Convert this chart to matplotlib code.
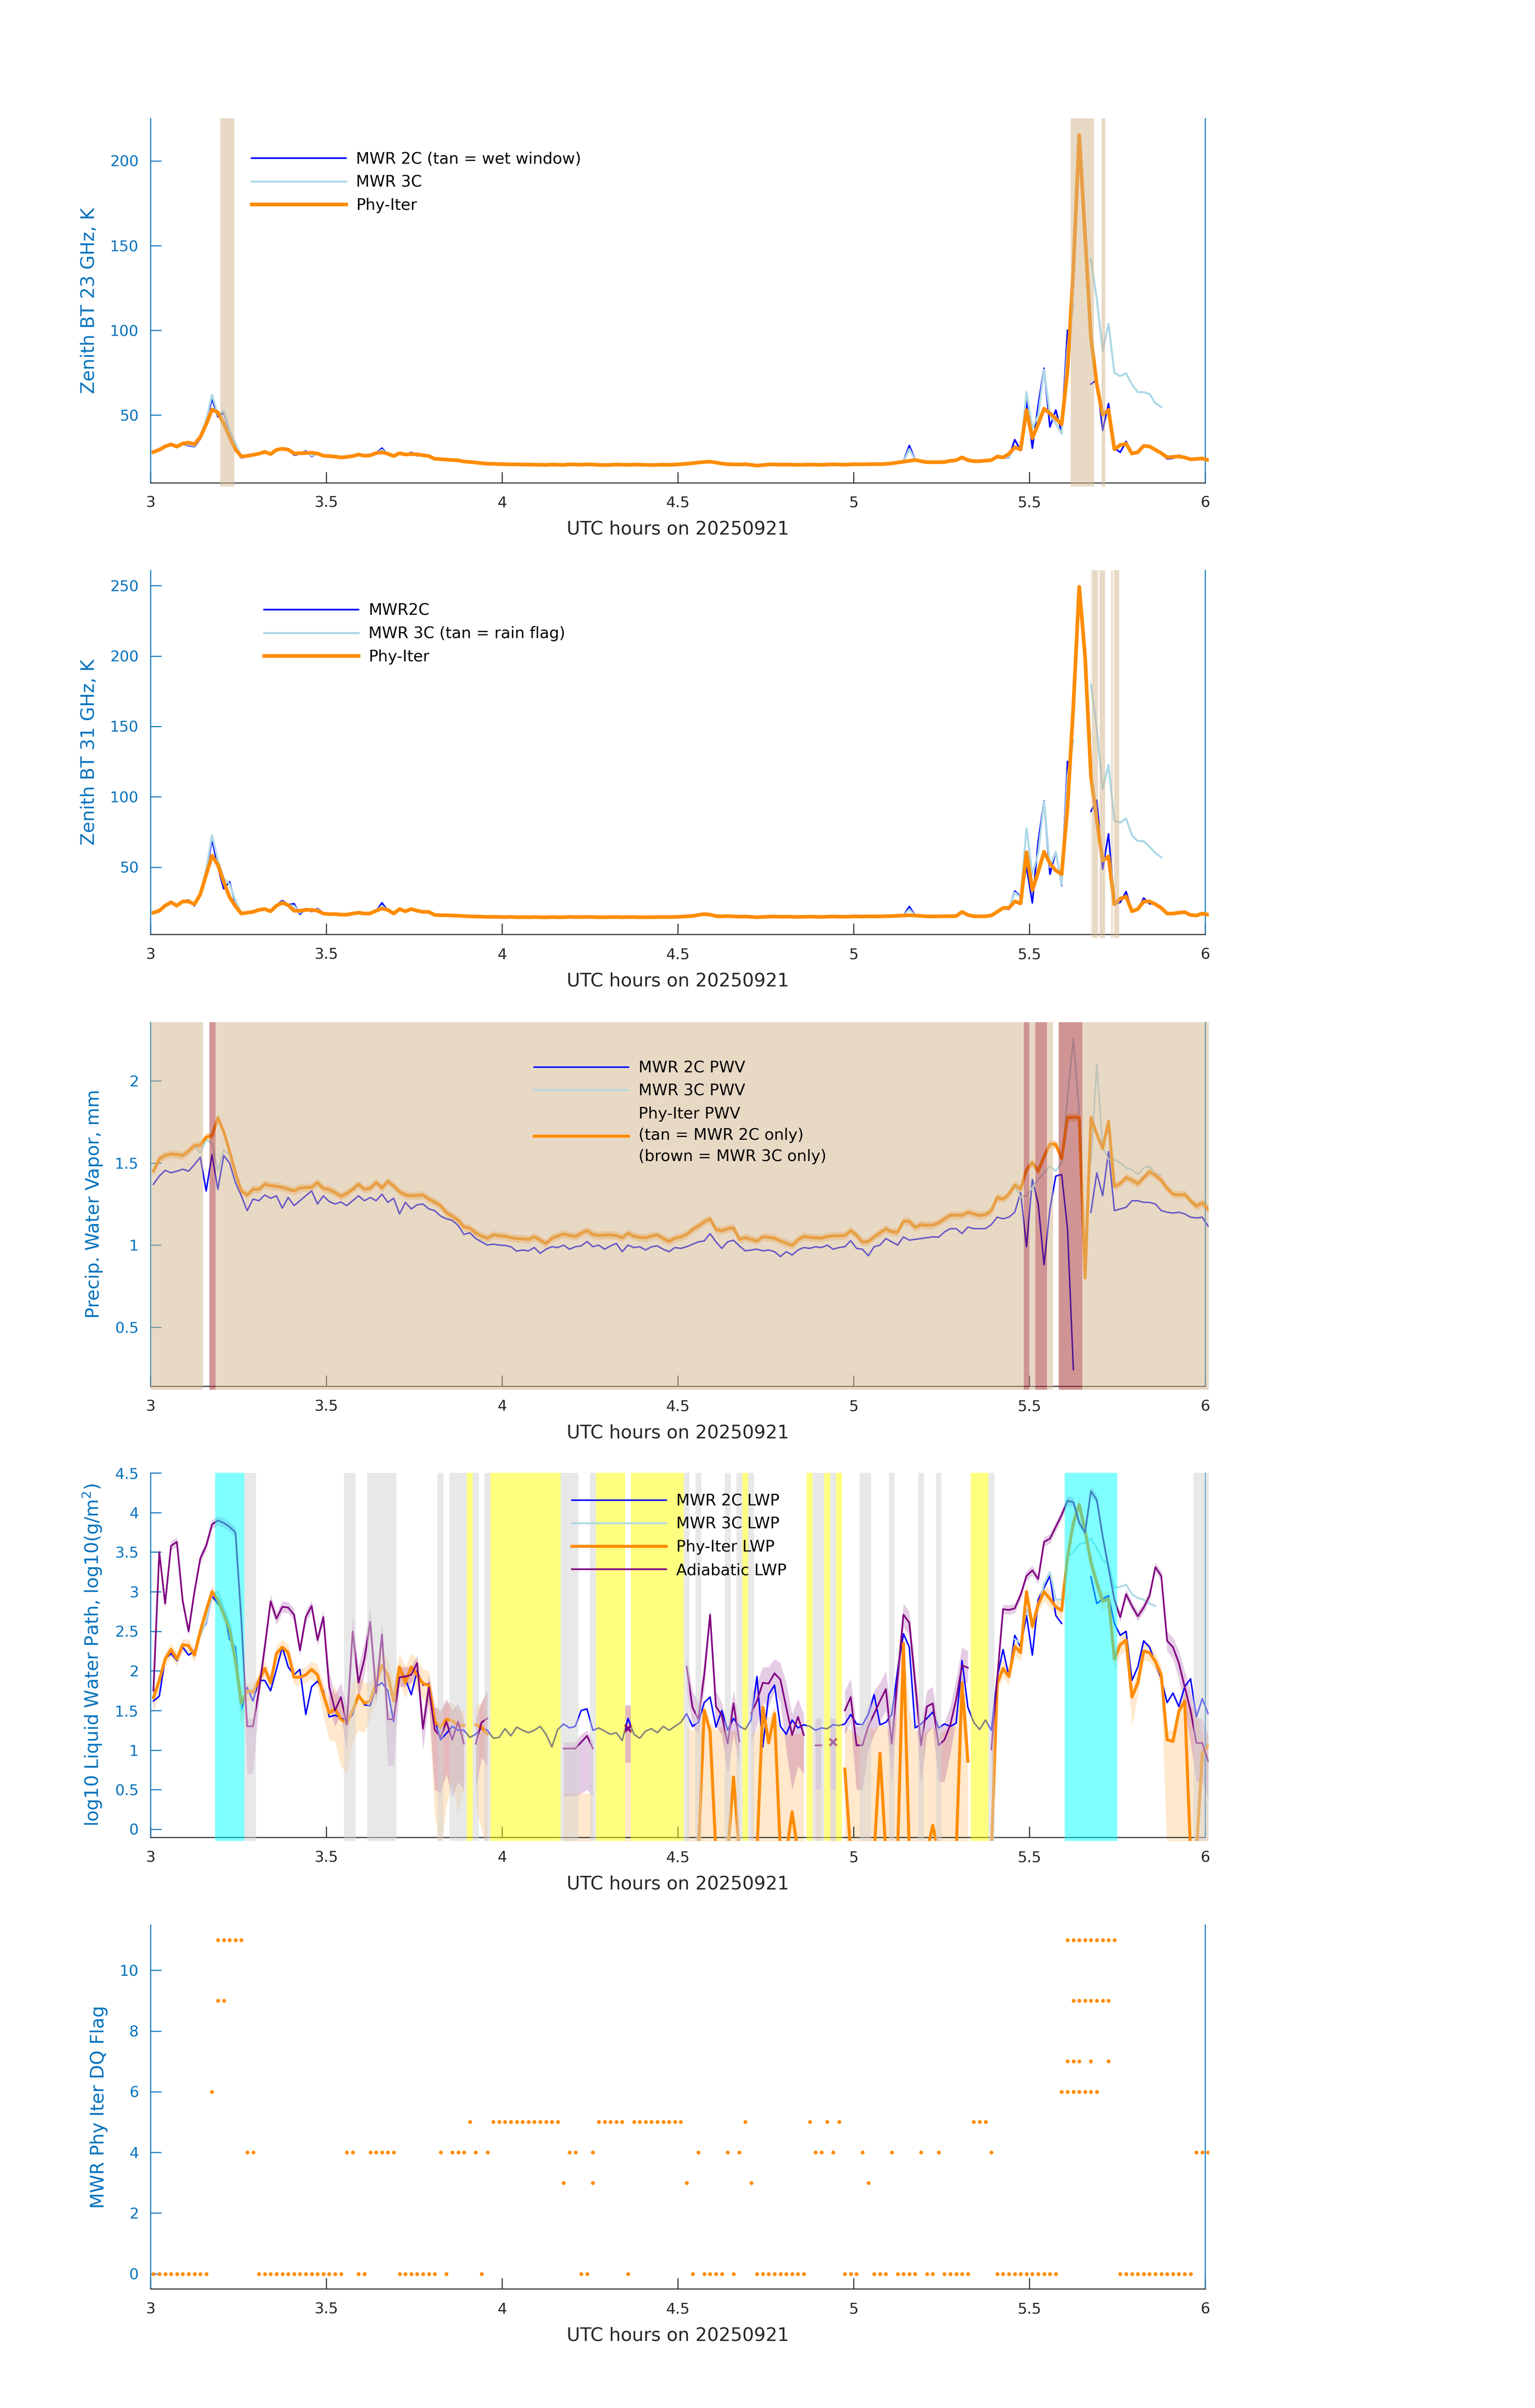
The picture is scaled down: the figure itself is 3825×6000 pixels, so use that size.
import numpy as np
import matplotlib
matplotlib.use("Agg")
import matplotlib.pyplot as plt
from matplotlib.patches import Rectangle
from matplotlib.ticker import FuncFormatter

nan = float("nan")

# ---------------- time axis (1-minute samples, UTC hours) ----------------
T_START = 3.0
N_MIN = 181
TIME = T_START + (np.arange(N_MIN) + 0.5) / 60.0

# ---------------- panel 1 : zenith BT 23 GHz ----------------
BT23_2C = [
    28.0, 29.0, 31.0, 32.5, 31.0, 33.0, 32.0, 31.4, 36.0, 46.0,
    59.6, 49.0, 51.5, 40.0, 32.5, 24.8, 25.5, 26.3, 27.0, 28.0,
    26.8, 29.8, 30.5, 30.0, 26.4, 27.0, 28.9, 25.5, 27.5, 26.0,
    25.5, 25.3, 24.8, 25.2, 25.6, 26.5, 25.8, 26.0, 27.5, 30.5,
    26.5, 25.5, 28.0, 26.2, 28.0, 26.0, 26.8, 25.5, 24.0, 23.8,
    23.5, 23.4, 23.1, 22.5, 22.2, 21.8, 21.5, 21.2, 21.1, 21.0,
    20.8, 20.8, 20.7, 20.6, 20.7, 20.5, 20.6, 20.4, 20.7, 20.5,
    20.5, 20.8, 20.6, 20.6, 20.8, 20.7, 20.4, 20.4, 20.5, 20.6,
    20.6, 20.4, 20.7, 20.5, 20.5, 20.3, 20.5, 20.6, 20.4, 20.7,
    20.9, 21.2, 21.5, 21.8, 22.2, 22.6, 21.9, 21.2, 20.8, 20.7,
    20.6, 20.8, 20.4, 19.9, 20.3, 20.6, 20.8, 20.5, 20.6, 20.5,
    20.4, 20.6, 20.6, 20.5, 20.5, 20.6, 20.8, 20.6, 20.5, 20.7,
    20.8, 20.8, 20.9, 21.0, 20.9, 21.1, 21.4, 21.8, 22.6, 32.0,
    23.6, 22.8, 22.0, 22.0, 22.1, 22.2, 22.6, 23.2, 25.5, 23.0,
    22.5, 22.6, 23.0, 23.2, 26.0, 24.7, 25.0, 35.5, 29.0, 58.0,
    30.5, 56.0, 77.6, 43.0, 53.0, 39.7, 100.0, nan, nan, nan,
    68.3, 70.8, 41.0, 56.8, 30.5, 28.0, 34.4, 27.2, 27.5, 32.2,
    31.0, 30.0, 27.0, 24.2, 24.5, 26.3, 25.0, 23.5, 24.2, 24.0,
    23.5]
BT23_3C = [
    28.2, 29.2, 31.2, 32.6, 31.2, 33.1, 32.5, 31.8, 38.0, 47.0,
    62.0, 50.0, 52.5, 41.0, 33.5, 25.5, 25.8, 26.4, 27.1, 28.2,
    26.9, 29.6, 30.3, 29.8, 26.8, 27.2, 28.5, 25.9, 27.4, 26.0,
    25.6, 25.4, 24.9, 25.2, 25.7, 26.6, 25.9, 26.1, 27.5, 29.5,
    26.8, 25.6, 27.6, 26.4, 27.6, 26.3, 26.6, 25.6, 24.1, 23.9,
    23.6, 23.4, 23.2, 22.6, 22.2, 21.9, 21.6, 21.3, 21.2, 21.0,
    20.9, 20.8, 20.8, 20.7, 20.7, 20.6, 20.6, 20.5, 20.7, 20.6,
    20.5, 20.8, 20.7, 20.6, 20.8, 20.7, 20.5, 20.4, 20.5, 20.7,
    20.6, 20.5, 20.7, 20.6, 20.5, 20.4, 20.5, 20.6, 20.5, 20.7,
    20.9, 21.2, 21.5, 21.9, 22.2, 22.5, 21.9, 21.3, 20.9, 20.8,
    20.7, 20.9, 20.5, 20.0, 20.4, 20.7, 20.8, 20.6, 20.7, 20.6,
    20.5, 20.6, 20.7, 20.6, 20.5, 20.7, 20.8, 20.7, 20.6, 20.8,
    20.9, 20.8, 20.9, 21.0, 21.0, 21.1, 21.4, 21.9, 22.5, 30.0,
    23.5, 22.8, 22.1, 22.1, 22.1, 22.2, 22.7, 23.2, 25.2, 23.1,
    22.6, 22.7, 23.0, 23.3, 25.8, 24.8, 25.3, 31.0, 29.5, 63.6,
    42.0, 50.0, 76.8, 50.0, 45.0, 39.0, 90.0, 115.0, nan, nan,
    142.0, 118.3, 88.0, 103.9, 75.0, 73.0, 74.7, 68.0, 63.5, 63.5,
    62.5, 57.0, 54.8, nan, nan, nan, nan, nan, nan, nan,
    nan]
BT23_PHY = [
    28.2, 29.5, 31.5, 32.7, 31.4, 33.2, 33.7, 32.8, 37.0, 44.5,
    53.3, 51.5, 45.0, 37.0, 29.7, 25.6, 25.9, 26.5, 27.2, 28.3,
    27.0, 29.5, 30.1, 29.6, 27.4, 27.5, 27.6, 27.8, 27.3, 26.0,
    25.8, 25.5, 25.0, 25.3, 25.8, 26.7, 26.0, 26.2, 27.6, 28.0,
    27.2, 25.8, 27.5, 26.7, 27.0, 26.8, 26.3, 25.8, 24.2, 24.0,
    23.7, 23.5, 23.3, 22.6, 22.3, 22.0, 21.6, 21.3, 21.2, 21.1,
    21.0, 20.9, 20.9, 20.8, 20.8, 20.7, 20.7, 20.6, 20.8, 20.7,
    20.6, 20.9, 20.8, 20.7, 20.9, 20.8, 20.6, 20.5, 20.6, 20.8,
    20.7, 20.6, 20.8, 20.7, 20.6, 20.5, 20.6, 20.7, 20.6, 20.8,
    21.0, 21.3, 21.6, 22.0, 22.3, 22.5, 22.0, 21.4, 21.0, 20.9,
    20.8, 21.0, 20.6, 20.2, 20.5, 20.8, 20.9, 20.7, 20.8, 20.7,
    20.6, 20.7, 20.8, 20.7, 20.6, 20.8, 20.9, 20.8, 20.7, 20.9,
    21.0, 20.9, 21.0, 21.1, 21.0, 21.2, 21.5, 22.0, 22.5, 23.0,
    23.5, 22.8, 22.2, 22.2, 22.2, 22.3, 23.0, 23.4, 25.0, 23.4,
    22.8, 22.8, 23.1, 23.4, 25.5, 25.0, 27.1, 31.0, 29.7, 52.9,
    36.4, 44.7, 53.8, 51.0, 47.9, 44.6, 76.2, 136.0, 215.3, 156.0,
    95.5, 68.0, 50.1, 53.1, 29.8, 32.3, 33.1, 27.3, 28.1, 31.8,
    31.5, 29.5, 27.5, 25.1, 25.3, 25.6, 25.0, 23.9, 24.1, 24.4,
    23.4]
WET_WINDOW_2C = [(3.199, 3.238), (5.617, 5.684), (5.705, 5.716)]

# ---------------- panel 2 : zenith BT 31 GHz ----------------
BT31_2C = [
    17.2, 18.8, 22.0, 25.5, 22.3, 26.0, 26.5, 22.5, 31.0, 46.0,
    69.6, 50.0, 34.6, 39.6, 24.0, 17.5, 17.8, 18.6, 19.8, 20.5,
    19.0, 23.0, 26.2, 23.2, 24.0, 16.5, 20.5, 18.5, 20.5, 17.5,
    16.5, 16.4, 16.0, 16.3, 16.8, 17.3, 17.2, 17.0, 18.6, 24.6,
    19.0, 17.5, 20.8, 18.0, 20.8, 18.5, 18.0, 17.6, 15.8, 15.6,
    15.6, 15.4, 15.3, 15.0, 14.8, 14.7, 14.5, 14.4, 14.5, 14.3,
    14.2, 14.4, 14.1, 14.3, 14.2, 14.3, 14.1, 14.0, 14.3, 14.2,
    14.2, 14.4, 14.3, 14.2, 14.5, 14.3, 14.1, 14.2, 14.3, 14.2,
    14.1, 14.3, 14.2, 14.1, 14.1, 14.2, 14.3, 14.2, 14.2, 14.4,
    14.6, 14.8, 15.0, 15.8, 16.8, 16.0, 15.0, 14.8, 15.0, 14.8,
    14.6, 14.7, 14.3, 13.9, 14.3, 14.6, 14.7, 14.5, 14.6, 14.5,
    14.4, 14.5, 14.6, 14.5, 14.4, 14.6, 14.7, 14.6, 14.5, 14.7,
    14.8, 14.7, 14.8, 14.8, 14.8, 14.9, 15.0, 15.2, 15.5, 22.0,
    15.5, 15.1, 14.8, 14.8, 14.8, 14.9, 14.9, 15.0, 18.8, 15.6,
    14.9, 14.8, 14.9, 15.4, 18.5, 20.5, 20.0, 33.0, 29.0, 50.0,
    24.6, 68.0, 97.0, 45.0, 61.0, 37.0, 125.0, nan, nan, nan,
    89.6, 97.6, 48.6, 73.6, 23.6, 25.0, 32.6, 18.6, 19.5, 28.0,
    24.0, 24.0, 21.0, 16.8, 16.8, 17.5, 18.5, 15.8, 15.4, 17.2,
    16.0]
BT31_3C = [
    17.4, 18.9, 22.3, 25.3, 22.5, 25.8, 26.0, 23.0, 31.5, 48.0,
    72.6, 55.0, 42.0, 38.0, 26.0, 17.6, 17.7, 18.4, 19.7, 20.3,
    18.9, 22.8, 25.5, 23.1, 22.5, 17.5, 20.2, 19.0, 20.0, 17.4,
    16.6, 16.5, 16.1, 16.3, 16.9, 17.4, 17.1, 17.0, 18.8, 22.5,
    19.2, 17.4, 20.5, 18.3, 20.4, 18.7, 18.1, 17.8, 15.9, 15.7,
    15.6, 15.5, 15.4, 15.1, 14.9, 14.8, 14.6, 14.5, 14.5, 14.4,
    14.3, 14.4, 14.2, 14.3, 14.3, 14.3, 14.2, 14.1, 14.3, 14.3,
    14.3, 14.4, 14.4, 14.3, 14.5, 14.4, 14.2, 14.2, 14.3, 14.3,
    14.2, 14.3, 14.3, 14.2, 14.2, 14.2, 14.3, 14.3, 14.3, 14.4,
    14.7, 14.9, 15.1, 15.8, 16.6, 16.1, 15.1, 14.9, 15.1, 14.9,
    14.7, 14.8, 14.4, 14.1, 14.4, 14.7, 14.8, 14.6, 14.7, 14.6,
    14.5, 14.6, 14.7, 14.6, 14.5, 14.7, 14.8, 14.7, 14.6, 14.8,
    14.9, 14.8, 14.9, 14.9, 14.9, 15.0, 15.1, 15.3, 15.6, 20.0,
    15.5, 15.2, 14.9, 14.9, 14.9, 15.0, 15.0, 15.1, 18.0, 15.7,
    15.0, 14.9, 15.0, 15.5, 18.0, 20.2, 20.3, 32.0, 28.5, 77.6,
    44.6, 60.0, 96.6, 50.0, 61.0, 37.6, 115.0, 140.0, nan, nan,
    179.7, 148.3, 105.6, 122.7, 83.0, 81.6, 84.6, 72.6, 68.5, 68.5,
    64.6, 60.0, 57.0, nan, nan, nan, nan, nan, nan, nan,
    nan]
BT31_PHY = [
    17.6, 19.0, 22.6, 25.0, 22.6, 25.6, 25.6, 23.6, 30.6, 44.6,
    58.2, 51.6, 39.6, 28.6, 22.2, 17.0, 17.6, 18.2, 19.6, 20.2,
    18.6, 22.6, 24.6, 23.0, 19.0, 19.0, 19.6, 19.6, 19.0, 17.0,
    16.6, 16.6, 16.2, 16.2, 17.0, 17.6, 17.0, 17.1, 19.0, 20.6,
    19.6, 17.0, 20.2, 18.6, 20.2, 19.0, 18.2, 18.2, 16.0, 15.8,
    15.8, 15.6, 15.5, 15.2, 15.0, 14.9, 14.8, 14.6, 14.7, 14.6,
    14.5, 14.6, 14.4, 14.5, 14.4, 14.5, 14.4, 14.3, 14.5, 14.4,
    14.4, 14.6, 14.5, 14.5, 14.6, 14.5, 14.4, 14.4, 14.5, 14.5,
    14.4, 14.5, 14.5, 14.4, 14.4, 14.4, 14.5, 14.5, 14.5, 14.6,
    14.8, 15.0, 15.3, 16.0, 16.6, 16.2, 15.2, 15.0, 15.2, 15.0,
    14.8, 14.9, 14.6, 14.4, 14.6, 14.8, 14.9, 14.7, 14.8, 14.7,
    14.6, 14.7, 14.8, 14.7, 14.6, 14.8, 14.9, 14.8, 14.7, 14.9,
    15.0, 14.9, 15.0, 15.0, 15.0, 15.1, 15.2, 15.4, 15.6, 15.8,
    15.6, 15.3, 15.0, 15.0, 15.0, 15.1, 15.1, 15.2, 18.2, 16.0,
    15.1, 15.0, 15.1, 15.6, 18.2, 21.0, 21.0, 25.6, 24.2, 60.6,
    33.6, 46.6, 61.0, 52.6, 47.6, 45.0, 92.6, 164.7, 249.2, 199.7,
    114.7, 83.0, 54.6, 57.6, 23.6, 27.6, 29.0, 18.6, 20.2, 25.6,
    25.6, 23.6, 21.0, 17.0, 17.0, 17.6, 18.0, 16.0, 15.6, 17.0,
    16.2]
RAIN_FLAG_3C = [(5.674, 5.676), (5.678, 5.695), (5.699, 5.715),
                (5.733, 5.737), (5.741, 5.755)]

# ---------------- panel 3 : precipitable water vapour ----------------
PWV_2C = [
    1.37, 1.42, 1.455, 1.44, 1.45, 1.462, 1.45, 1.49, 1.535, 1.33,
    1.55, 1.34, 1.545, 1.50, 1.38, 1.30, 1.21, 1.28, 1.27, 1.305,
    1.285, 1.30, 1.225, 1.29, 1.24, 1.27, 1.30, 1.33, 1.25, 1.30,
    1.265, 1.25, 1.262, 1.24, 1.27, 1.30, 1.27, 1.29, 1.27, 1.31,
    1.26, 1.285, 1.19, 1.26, 1.22, 1.245, 1.25, 1.22, 1.21, 1.177,
    1.16, 1.15, 1.12, 1.065, 1.075, 1.04, 1.02, 1.00, 1.006, 1.00,
    0.998, 0.99, 0.963, 0.97, 0.965, 0.985, 0.95, 0.975, 0.99, 0.985,
    1.00, 0.975, 0.99, 0.995, 1.022, 0.99, 1.00, 0.975, 0.995, 1.01,
    0.96, 1.00, 0.985, 0.99, 0.97, 0.99, 0.995, 0.975, 0.96, 0.985,
    0.98, 0.99, 1.005, 1.02, 1.025, 1.07, 1.02, 0.98, 1.02, 1.03,
    0.995, 0.965, 0.97, 0.975, 0.965, 0.97, 0.96, 0.93, 0.96, 0.94,
    0.97, 0.985, 0.98, 0.99, 0.985, 1.00, 0.975, 0.985, 0.99, 1.027,
    0.98, 0.975, 0.935, 0.99, 1.00, 1.04, 1.02, 1.00, 1.05, 1.03,
    1.035, 1.04, 1.045, 1.05, 1.048, 1.08, 1.10, 1.10, 1.07, 1.11,
    1.10, 1.10, 1.10, 1.125, 1.17, 1.16, 1.17, 1.20, 1.32, 0.99,
    1.40, 1.25, 0.88, 1.22, 1.42, 1.43, 1.10, 0.242, nan, nan,
    1.20, 1.44, 1.30, 1.57, 1.21, 1.22, 1.23, 1.27, 1.27, 1.26,
    1.26, 1.25, 1.21, 1.20, 1.195, 1.20, 1.19, 1.17, 1.165, 1.17,
    1.115]
PWV_3C = [
    1.448, 1.522, 1.543, 1.552, 1.550, 1.543, 1.570, 1.602, 1.56, 1.64,
    1.62, 1.45, 1.58, 1.55, 1.44, 1.33, 1.305, 1.34, 1.34, 1.37,
    1.362, 1.358, 1.352, 1.340, 1.330, 1.348, 1.350, 1.352, 1.380, 1.345,
    1.338, 1.320, 1.297, 1.315, 1.340, 1.370, 1.340, 1.345, 1.382, 1.348,
    1.388, 1.360, 1.325, 1.305, 1.300, 1.302, 1.305, 1.280, 1.262, 1.240,
    1.198, 1.175, 1.152, 1.110, 1.103, 1.075, 1.055, 1.042, 1.062, 1.057,
    1.054, 1.045, 1.040, 1.038, 1.034, 1.050, 1.030, 1.010, 1.042, 1.055,
    1.068, 1.060, 1.052, 1.072, 1.088, 1.065, 1.058, 1.062, 1.062, 1.058,
    1.045, 1.072, 1.055, 1.047, 1.045, 1.055, 1.062, 1.040, 1.022, 1.042,
    1.050, 1.065, 1.095, 1.117, 1.140, 1.160, 1.095, 1.088, 1.100, 1.105,
    1.035, 1.045, 1.035, 1.025, 1.050, 1.047, 1.042, 1.025, 1.012, 0.998,
    1.032, 1.053, 1.047, 1.044, 1.042, 1.052, 1.056, 1.057, 1.058, 1.088,
    1.060, 1.018, 1.022, 1.050, 1.075, 1.098, 1.080, 1.079, 1.145, 1.144,
    1.108, 1.124, 1.120, 1.122, 1.135, 1.160, 1.182, 1.182, 1.182, 1.200,
    1.190, 1.180, 1.185, 1.210, 1.290, 1.280, 1.310, 1.365, 1.29, 1.30,
    1.35, 1.40, 1.44, 1.48, 1.45, 1.50, 1.90, 2.257, 1.80, nan,
    1.50, 2.10, 1.60, 1.52, 1.52, 1.50, 1.47, 1.46, 1.43, 1.47,
    1.48, 1.43, 1.43, nan, nan, nan, nan, nan, nan, nan,
    nan]
PWV_PHY = [
    1.450, 1.525, 1.545, 1.554, 1.552, 1.545, 1.572, 1.605, 1.607, 1.657,
    1.665, 1.775, 1.690, 1.570, 1.440, 1.330, 1.305, 1.340, 1.340, 1.370,
    1.362, 1.358, 1.352, 1.340, 1.330, 1.348, 1.350, 1.352, 1.380, 1.345,
    1.338, 1.320, 1.297, 1.315, 1.340, 1.370, 1.340, 1.345, 1.382, 1.348,
    1.388, 1.360, 1.325, 1.305, 1.300, 1.302, 1.305, 1.280, 1.262, 1.240,
    1.198, 1.175, 1.152, 1.110, 1.103, 1.075, 1.055, 1.042, 1.062, 1.057,
    1.054, 1.045, 1.040, 1.038, 1.034, 1.050, 1.030, 1.010, 1.042, 1.055,
    1.068, 1.060, 1.052, 1.072, 1.088, 1.065, 1.058, 1.062, 1.062, 1.058,
    1.045, 1.072, 1.055, 1.047, 1.045, 1.055, 1.062, 1.040, 1.022, 1.042,
    1.050, 1.065, 1.095, 1.117, 1.140, 1.160, 1.095, 1.088, 1.100, 1.105,
    1.035, 1.045, 1.035, 1.025, 1.050, 1.047, 1.042, 1.025, 1.012, 0.998,
    1.032, 1.053, 1.047, 1.044, 1.042, 1.052, 1.056, 1.057, 1.058, 1.088,
    1.060, 1.018, 1.022, 1.050, 1.075, 1.098, 1.080, 1.079, 1.145, 1.144,
    1.108, 1.124, 1.120, 1.122, 1.135, 1.160, 1.182, 1.182, 1.182, 1.200,
    1.190, 1.180, 1.185, 1.210, 1.290, 1.280, 1.310, 1.365, 1.340, 1.460,
    1.502, 1.450, 1.540, 1.615, 1.613, 1.525, 1.777, 1.777, 1.777, 0.800,
    1.777, 1.674, 1.588, 1.754, 1.357, 1.374, 1.411, 1.395, 1.374, 1.410,
    1.447, 1.425, 1.395, 1.345, 1.310, 1.305, 1.309, 1.270, 1.237, 1.257,
    1.219]
PWV_PHY_UNC = 0.025
PWV_2C_ONLY = [(3.000, 3.150), (3.185, 5.484), (5.500, 5.517),
               (5.550, 5.567), (5.650, 6.0096)]
PWV_3C_ONLY = [(3.168, 3.185), (5.484, 5.500), (5.517, 5.550), (5.583, 5.650)]

# ---------------- panel 4 : log10 liquid water path ----------------
LWP_2C = [
    1.62, 1.68, 2.15, 2.22, 2.13, 2.30, 2.20, 2.25, 2.48, 2.60,
    2.95, 2.85, 2.78, 2.40, 2.30, 1.50, 1.79, 1.62, 1.88, 1.88,
    1.75, 2.02, 2.30, 2.05, 1.95, 2.02, 1.45, 1.80, 1.87, 1.75,
    1.42, 1.44, 1.41, 1.36, 1.45, 1.70, 1.57, 1.56, 1.80, 1.85,
    1.75, 1.36, 2.05, 1.90, 1.70, 2.00, 1.82, 1.84, 1.39, 1.13,
    1.21, 1.30, 1.25, 1.25, 1.16, 1.20, 1.28, 1.25, 1.15, 1.16,
    1.27, 1.18, 1.29, 1.25, 1.22, 1.25, 1.30, 1.20, 1.04, 1.26,
    1.33, 1.28, 1.30, 1.50, 1.52, 1.25, 1.28, 1.24, 1.20, 1.22,
    1.12, 1.40, 1.20, 1.15, 1.24, 1.27, 1.22, 1.30, 1.25, 1.30,
    1.35, 1.46, 1.30, 1.35, 1.60, 1.67, 1.29, 1.50, 1.25, 1.40,
    1.30, 1.26, 1.38, 1.93, 1.04, 1.70, 1.82, 1.30, 1.20, 1.38,
    1.28, 1.32, 1.30, 1.25, 1.28, 1.27, 1.32, 1.31, 1.33, 1.45,
    1.33, 1.32, 1.45, 1.70, 1.32, 1.35, 1.45, 2.00, 2.47, 2.30,
    1.28, 1.33, 1.40, 1.48, 1.28, 1.33, 1.30, 1.34, 2.13, 1.54,
    1.35, 1.26, 1.38, 1.25, 1.92, 2.27, 1.93, 2.45, 2.30, 2.70,
    2.20, 2.90, 3.05, 3.20, 2.70, 2.60, nan, nan, nan, nan,
    3.19, 2.85, 2.91, 2.95, 2.60, 2.45, 2.50, 1.88, 2.05, 2.38,
    2.30, 2.10, 1.90, 1.60, 1.72, 1.55, 1.80, 1.90, 1.42, 1.65,
    1.46]
LWP_3C = [
    nan, nan, nan, nan, nan, nan, nan, nan, 2.45, 2.62,
    2.96, 3.00, 2.80, 2.60, 2.20, 1.50, nan, nan, nan, nan,
    nan, nan, nan, nan, nan, nan, nan, nan, nan, nan,
    nan, nan, nan, nan, nan, nan, nan, nan, nan, nan,
    nan, nan, nan, nan, nan, nan, nan, nan, nan, nan,
    nan, nan, nan, nan, nan, nan, nan, nan, nan, nan,
    nan, nan, nan, nan, nan, nan, nan, nan, nan, nan,
    nan, nan, nan, nan, nan, nan, nan, nan, nan, nan,
    nan, nan, nan, nan, nan, nan, nan, nan, nan, nan,
    nan, nan, nan, nan, nan, nan, nan, nan, nan, nan,
    nan, nan, nan, nan, nan, nan, nan, nan, nan, nan,
    nan, nan, nan, nan, nan, nan, nan, nan, nan, nan,
    nan, nan, nan, nan, nan, nan, nan, nan, nan, nan,
    nan, nan, nan, nan, nan, nan, nan, nan, nan, nan,
    nan, nan, nan, nan, nan, nan, nan, 2.40, 2.35, 2.78,
    2.60, 2.80, 3.10, 3.25, 2.90, 2.90, 3.44, 3.50, 3.60, 3.62,
    3.67, 3.55, 3.40, 3.35, 3.05, 3.06, 3.09, 2.97, 2.92, 2.90,
    2.85, 2.82, nan, nan, nan, nan, nan, nan, nan, nan,
    nan]
LWP_PHY = [
    1.66, 1.88, 2.15, 2.27, 2.15, 2.33, 2.32, 2.20, 2.50, 2.76,
    3.00, 2.90, 2.72, 2.52, 2.13, 1.59, 1.75, 1.73, 1.88, 2.03,
    1.85, 2.22, 2.30, 2.23, 1.92, 1.92, 1.95, 2.02, 1.95, 1.70,
    1.47, 1.52, 1.39, 1.34, 1.50, 1.69, 1.59, 1.62, 1.85, 2.07,
    1.95, 1.62, 2.05, 1.85, 2.05, 1.95, 1.84, 1.82, 1.36, 1.29,
    1.39, 1.37, 1.32, 1.31, nan, 1.32, 1.29, 1.20, nan, nan,
    nan, nan, nan, nan, nan, nan, nan, nan, nan, nan,
    -0.3, -0.3, -0.3, -0.3, -0.3, -0.3, nan, nan, nan, nan,
    nan, 1.27, nan, nan, nan, nan, nan, nan, nan, nan,
    nan, nan, -0.3, -0.3, 1.50, 1.24, -0.3, -0.3, -0.3, 0.66,
    -0.3, nan, -0.3, -0.3, 1.54, 1.09, 1.46, -0.3, -0.3, 0.22,
    -0.3, -0.3, nan, nan, nan, nan, nan, nan, 0.76, -0.3,
    -0.3, -0.3, -0.3, -0.3, 0.96, -0.3, -0.3, -0.3, 2.35, -0.3,
    -0.3, -0.3, -0.3, 0.05, -0.3, -0.3, -0.3, -0.3, 1.85, 0.86,
    nan, nan, nan, -0.3, 1.84, 2.03, 1.93, 2.31, 2.23, 3.00,
    2.56, 2.84, 3.00, 2.91, 2.81, 2.76, 3.44, 3.87, 4.10, 3.77,
    3.37, 3.11, 2.88, 2.91, 2.15, 2.33, 2.39, 1.67, 1.85, 2.25,
    2.23, 2.12, 1.95, 1.13, 1.11, 1.49, 1.62, -0.3, -0.3, 0.96,
    1.06]
LWP_PHY_LO = [
    1.45, 1.75, 2.05, 2.18, 2.06, 2.24, 2.23, 2.11, 2.40, 2.66,
    2.90, 2.80, 2.60, 2.38, 1.95, 1.30, 1.62, 1.62, 1.78, 1.93,
    1.75, 2.12, 2.20, 2.13, 1.82, 1.82, 1.85, 1.90, 1.80, 1.45,
    1.13, 1.10, 0.80, 0.70, 1.10, 1.25, 1.22, 1.40, 1.65, 1.85,
    1.75, 1.35, 1.85, 1.65, 1.85, 1.75, 1.65, 1.55, 0.20, -0.3,
    0.30, 0.60, 0.20, 0.50, nan, 0.30, 0.00, -0.3, nan, nan,
    nan, nan, nan, nan, nan, nan, nan, nan, nan, nan,
    -0.3, -0.3, -0.3, -0.3, -0.3, -0.3, nan, nan, nan, nan,
    nan, -0.3, nan, nan, nan, nan, nan, nan, nan, nan,
    nan, -0.3, -0.3, -0.3, -0.3, -0.3, -0.3, -0.3, -0.3, -0.3,
    -0.3, nan, -0.3, -0.3, -0.3, -0.3, -0.3, -0.3, -0.3, -0.3,
    -0.3, -0.3, nan, -0.3, -0.3, nan, -0.3, nan, -0.3, -0.3,
    -0.3, -0.3, -0.3, -0.3, -0.3, -0.3, -0.3, -0.3, -0.3, -0.3,
    -0.3, -0.3, -0.3, -0.3, -0.3, -0.3, -0.3, -0.3, -0.3, -0.3,
    nan, nan, nan, -0.3, 1.72, 1.92, 1.82, 2.20, 2.12, 2.88,
    2.45, 2.73, 2.88, 2.80, 2.70, 2.65, 3.33, 3.76, 3.98, 3.66,
    3.26, 3.00, 2.76, 2.80, 2.02, 2.20, 2.25, 1.30, 1.70, 2.13,
    2.12, 2.00, 1.80, -0.3, -0.3, -0.3, -0.3, -0.3, -0.3, -0.3,
    -0.3]
LWP_PHY_HI = [
    1.75, 1.96, 2.23, 2.35, 2.23, 2.41, 2.40, 2.28, 2.58, 2.84,
    3.08, 2.98, 2.80, 2.62, 2.25, 1.80, 1.85, 1.83, 1.98, 2.13,
    1.95, 2.32, 2.40, 2.33, 2.02, 2.02, 2.05, 2.12, 2.08, 1.85,
    1.65, 1.80, 1.60, 1.55, 1.85, 1.95, 1.85, 1.85, 2.05, 2.25,
    2.15, 1.85, 2.22, 2.05, 2.22, 2.15, 2.02, 2.00, 1.55, 1.50,
    1.60, 1.60, 1.50, 1.50, nan, 1.55, 1.60, 1.75, nan, nan,
    nan, nan, nan, nan, nan, nan, nan, nan, nan, nan,
    0.45, 0.45, 0.45, 0.45, 0.45, 0.45, nan, nan, nan, nan,
    nan, 1.55, nan, nan, nan, nan, nan, nan, nan, nan,
    nan, 1.30, 1.25, 1.30, 1.60, 1.35, 1.25, 1.30, 1.20, 1.25,
    1.25, nan, 1.20, 1.25, 1.60, 1.40, 1.55, 1.25, 1.20, 1.20,
    1.20, 1.25, nan, 0.50, 0.50, nan, 0.50, nan, 1.30, 1.25,
    1.20, 1.15, 1.30, 1.25, 1.35, 1.30, 1.20, 1.50, 2.45, 1.50,
    1.25, 1.20, 1.25, 1.30, 1.20, 1.25, 1.30, 1.30, 1.95, 1.30,
    nan, nan, nan, 1.20, 1.96, 2.14, 2.04, 2.42, 2.34, 3.10,
    2.67, 2.95, 3.10, 3.02, 2.92, 2.87, 3.55, 3.98, 4.20, 3.88,
    3.48, 3.22, 2.99, 3.02, 2.26, 2.44, 2.50, 1.80, 1.96, 2.36,
    2.34, 2.23, 2.06, 1.25, 1.25, 1.60, 1.72, 1.55, 1.50, 1.20,
    1.20]
LWP_ADI = [
    1.75, 3.50, 2.85, 3.58, 3.63, 2.88, 2.50, 3.00, 3.42, 3.58,
    3.85, 3.90, 3.87, 3.82, 3.75, 2.65, 1.30, 1.30, 1.75, 2.30,
    2.88, 2.66, 2.81, 2.80, 2.71, 2.26, 2.68, 2.82, 2.39, 2.68,
    1.80, 1.50, 1.67, 1.32, 2.50, 1.85, 2.15, 2.62, 1.72, 2.46,
    1.39, 1.39, 1.92, 1.93, 1.95, 2.10, 1.27, 1.79, 1.26, 1.16,
    1.36, 1.13, 1.36, 1.08, nan, 1.08, 1.35, 1.40, nan, nan,
    nan, nan, nan, nan, nan, nan, nan, nan, nan, nan,
    1.02, 1.02, 1.02, 1.10, 1.18, 1.02, nan, nan, nan, nan,
    nan, 1.27, nan, nan, nan, nan, nan, nan, nan, nan,
    nan, 2.05, 1.54, 1.39, 1.95, 2.71, 1.55, 1.44, 1.08, 1.59,
    1.11, nan, 1.46, 1.62, 1.85, 1.84, 1.97, 1.89, 1.54, 1.19,
    1.42, 1.19, nan, 1.06, 1.06, nan, 1.10, nan, 1.50, 1.67,
    1.06, 1.06, 1.30, 1.46, 1.62, 1.77, 1.08, 1.90, 2.71, 2.61,
    1.85, 1.06, 1.55, 1.59, 1.06, 1.13, 1.32, 1.64, 2.07, 2.04,
    nan, nan, nan, 1.01, 1.90, 2.78, 2.77, 2.79, 2.96, 3.20,
    3.27, 3.16, 3.63, 3.67, 3.82, 3.97, 4.15, 4.13, 3.87, 3.75,
    4.27, 4.16, 3.70, 3.30, 2.90, 2.68, 2.97, 2.82, 2.69, 2.80,
    2.95, 3.31, 3.20, 2.38, 2.30, 2.10, 1.80, 1.50, 1.09, 1.09,
    0.86]
LWP_ADI_LO = [
    1.45, 3.44, 2.79, 3.52, 3.57, 2.82, 2.44, 2.94, 3.36, 3.52,
    3.79, 3.84, 3.81, 3.76, 3.69, 2.50, 0.70, 0.70, 1.60, 2.20,
    2.80, 2.58, 2.74, 2.73, 2.64, 2.18, 2.60, 2.75, 2.32, 2.60,
    1.55, 1.30, 1.45, 1.00, 2.30, 1.65, 1.95, 2.45, 1.55, 2.30,
    0.80, 0.80, 1.80, 1.80, 1.85, 2.00, 1.00, 1.60, 0.50, 0.45,
    0.70, 0.40, 0.60, 0.50, nan, 0.50, 0.90, 0.80, nan, nan,
    nan, nan, nan, nan, nan, nan, nan, nan, nan, nan,
    0.42, 0.42, 0.42, 0.45, 0.50, 0.42, nan, nan, nan, nan,
    nan, 0.84, nan, nan, nan, nan, nan, nan, nan, nan,
    nan, 1.75, 1.30, 1.20, 1.75, 2.60, 1.30, 1.20, 0.70, 1.20,
    0.80, nan, 1.10, 1.30, 1.60, 1.55, 1.75, 1.60, 1.00, 0.50,
    0.80, 0.70, nan, 0.50, 0.50, nan, 0.50, nan, 1.20, 1.35,
    0.50, 0.50, 1.00, 1.20, 1.35, 1.50, 0.60, 1.60, 2.55, 2.45,
    1.55, 0.55, 1.20, 1.30, 0.60, 0.60, 0.95, 1.40, 1.85, 1.85,
    nan, nan, nan, 0.60, 1.80, 2.72, 2.71, 2.73, 2.90, 3.14,
    3.21, 3.10, 3.57, 3.61, 3.76, 3.91, 4.09, 4.07, 3.81, 3.69,
    4.21, 4.10, 3.64, 3.24, 2.84, 2.62, 2.91, 2.76, 2.63, 2.74,
    2.89, 3.25, 3.14, 2.25, 2.15, 1.90, 1.50, 1.10, 0.60, 0.60,
    0.40]
LWP_ADI_HI = [
    1.90, 3.56, 2.91, 3.64, 3.69, 2.94, 2.56, 3.06, 3.48, 3.64,
    3.91, 3.96, 3.93, 3.88, 3.81, 2.80, 1.40, 1.40, 1.90, 2.40,
    2.96, 2.74, 2.88, 2.87, 2.78, 2.34, 2.76, 2.89, 2.46, 2.76,
    2.00, 1.70, 1.85, 1.55, 2.70, 2.05, 2.35, 2.80, 1.90, 2.62,
    1.50, 1.50, 2.05, 2.05, 2.05, 2.20, 1.45, 1.95, 1.55, 1.50,
    1.65, 1.50, 1.60, 1.35, nan, 1.40, 1.60, 1.75, nan, nan,
    nan, nan, nan, nan, nan, nan, nan, nan, nan, nan,
    1.10, 1.10, 1.10, 1.20, 1.25, 1.10, nan, nan, nan, nan,
    nan, 1.57, nan, nan, nan, nan, nan, nan, nan, nan,
    nan, 2.20, 1.75, 1.60, 2.10, 2.80, 1.75, 1.60, 1.30, 1.75,
    1.35, nan, 1.70, 1.85, 2.05, 2.05, 2.15, 2.10, 1.85, 1.45,
    1.65, 1.45, nan, 1.40, 1.40, nan, 1.40, nan, 1.75, 1.90,
    1.30, 1.30, 1.55, 1.75, 1.85, 2.00, 1.40, 2.15, 2.85, 2.75,
    2.05, 1.30, 1.75, 1.80, 1.30, 1.35, 1.55, 1.90, 2.30, 2.25,
    nan, nan, nan, 1.20, 2.00, 2.84, 2.83, 2.85, 3.02, 3.26,
    3.33, 3.22, 3.69, 3.73, 3.88, 4.03, 4.21, 4.19, 3.93, 3.81,
    4.33, 4.22, 3.76, 3.36, 2.96, 2.74, 3.03, 2.88, 2.75, 2.86,
    3.01, 3.37, 3.26, 2.50, 2.42, 2.25, 2.00, 1.75, 1.40, 1.40,
    1.20]

# ---------------- panel 5 : DQ flags (minute indices carrying each flag) ------
DQ_LEVELS = [0, 3, 4, 5, 6, 7, 9, 11]
DQ_MINUTES = [
    [0, 1, 2, 3, 4, 5, 6, 7, 8, 9, 18, 19, 20, 21, 22, 23, 24, 25, 26, 27,
     28, 29, 30, 31, 32, 35, 36, 42, 43, 44, 45, 46, 47, 48, 50, 56, 73, 74,
     81, 92, 94, 95, 96, 97, 99, 103, 104, 105, 106, 107, 108, 109, 110, 111,
     118, 119, 120, 123, 124, 125, 127, 128, 129, 130, 132, 133, 135, 136,
     137, 138, 139, 144, 145, 146, 147, 148, 149, 150, 151, 152, 153, 154,
     165, 166, 167, 168, 169, 170, 171, 172, 173, 174, 175, 176, 177],
    [70, 75, 91, 102, 122],
    [16, 17, 33, 34, 37, 38, 39, 40, 41, 49, 51, 52, 53, 55, 57, 71, 72, 75,
     93, 98, 100, 113, 114, 116, 121, 126, 131, 134, 143, 178, 179, 180],
    [54, 58, 59, 60, 61, 62, 63, 64, 65, 66, 67, 68, 69, 76, 77, 78, 79, 80,
     82, 83, 84, 85, 86, 87, 88, 89, 90, 101, 112, 115, 117, 140, 141, 142],
    [10, 155, 156, 157, 158, 159, 160, 161],
    [156, 157, 158, 160, 163],
    [11, 12, 157, 158, 159, 160, 161, 162, 163],
    [11, 12, 13, 14, 15, 156, 157, 158, 159, 160, 161, 162, 163, 164],
]

# =========================== drawing ===========================
AX_BLUE = "#0072BD"
DARK = "#262626"
C_2C, C_3C, C_PHY, C_ADI = "blue", "lightblue", "darkorange", "purple"
XLABEL = "UTC hours on 20250921"

fig = plt.figure(figsize=(12.75, 20), dpi=300)
LEFT, WIDTH, HEIGHT = 0.09804, 0.68711, 0.15125
BOTTOMS = [0.79957, 0.61193, 0.42433, 0.23705, 0.04943]
axes = [fig.add_axes([LEFT, b, WIDTH, HEIGHT]) for b in BOTTOMS]
EXT_X = 9.0 / 2628.0
EXT_Y = 9.0 / 907.0
fmt = FuncFormatter(lambda v, p: f"{v:g}")


def style(ax, ylabel, yticks):
    ax.set_xlim(3, 6)
    ax.set_xticks([3, 3.5, 4, 4.5, 5, 5.5, 6])
    ax.set_yticks(yticks)
    ax.xaxis.set_major_formatter(fmt)
    ax.yaxis.set_major_formatter(fmt)
    ax.spines["top"].set_visible(False)
    for s in ("left", "right"):
        ax.spines[s].set_color(AX_BLUE)
        ax.spines[s].set_linewidth(0.6)
    ax.spines["bottom"].set_color(DARK)
    ax.spines["bottom"].set_linewidth(0.6)
    ax.tick_params(axis="x", direction="in", length=6.5, width=0.6,
                   colors=DARK, labelsize=9, pad=8, top=False)
    ax.tick_params(axis="y", direction="in", length=6.5, width=0.6,
                   colors=AX_BLUE, labelsize=9, pad=7, right=False)
    ax.set_xlabel(XLABEL, fontsize=11, color=DARK, labelpad=6)
    ax.set_ylabel(ylabel, fontsize=11, color=AX_BLUE, labelpad=7)


def spans(ax, intervals, color):
    for a, b in intervals:
        ax.axvspan(a, b, ymin=-EXT_Y, ymax=1, facecolor=color,
                   edgecolor="none", alpha=0.5, zorder=5)


def minute_runs(idx):
    idx = sorted(set(idx))
    out = []
    start = prev = idx[0]
    for k in idx[1:]:
        if k == prev + 1:
            prev = k
            continue
        out.append((start, prev))
        start = prev = k
    out.append((start, prev))
    return [(T_START + s / 60.0, T_START + (e + 1) / 60.0) for s, e in out]


def band(ax, lo, hi, color, alpha):
    lo = np.asarray(lo, float)
    hi = np.asarray(hi, float)
    ok = ~(np.isnan(lo) | np.isnan(hi))
    i = 0
    while i < N_MIN:
        if not ok[i]:
            i += 1
            continue
        j = i
        while j + 1 < N_MIN and ok[j + 1]:
            j += 1
        if j == i:
            x = [TIME[i] - 1 / 120.0, TIME[i] + 1 / 120.0]
            ax.fill_between(x, [lo[i]] * 2, [hi[i]] * 2, color=color,
                            alpha=alpha, lw=0, zorder=1)
        else:
            ax.fill_between(TIME[i:j + 1], lo[i:j + 1], hi[i:j + 1],
                            color=color, alpha=alpha, lw=0, zorder=1)
        i = j + 1


def extend_clip(ax):
    rect = Rectangle((0, -EXT_Y), 1 + EXT_X, 1 + EXT_Y,
                     transform=ax.transAxes, fill=False, visible=False)
    for art in list(ax.lines) + list(ax.collections) + list(ax.patches):
        art.set_clip_path(rect)


def legend(ax, handles, labels, x, y):
    leg = ax.legend(handles, labels, loc="upper left", bbox_to_anchor=(x, y),
                    frameon=False, fontsize=9.4, handlelength=6.0,
                    handletextpad=0.65, labelspacing=0.5, borderaxespad=0,
                    borderpad=0.4)
    for t in leg.get_texts():
        t.set_linespacing(1.5)
    leg.set_zorder(20)


# ---- panel 1
ax = axes[0]
l1, = ax.plot(TIME, BT23_2C, color=C_2C, lw=1.0, zorder=2)
l2, = ax.plot(TIME, BT23_3C, color=C_3C, lw=1.2, zorder=2)
l3, = ax.plot(TIME, BT23_PHY, color=C_PHY, lw=2.2, zorder=3)
spans(ax, WET_WINDOW_2C, "tan")
style(ax, "Zenith BT 23 GHz, K", [50, 100, 150, 200])
legend(ax, [l1, l2, l3], ["MWR 2C (tan = wet window)", "MWR 3C", "Phy-Iter"],
       0.0898, 0.926)
extend_clip(ax)
ax.set_xlim(3, 6)

# ---- panel 2
ax = axes[1]
l1, = ax.plot(TIME, BT31_2C, color=C_2C, lw=1.0, zorder=2)
l2, = ax.plot(TIME, BT31_3C, color=C_3C, lw=1.2, zorder=2)
l3, = ax.plot(TIME, BT31_PHY, color=C_PHY, lw=2.2, zorder=3)
spans(ax, RAIN_FLAG_3C, "tan")
style(ax, "Zenith BT 31 GHz, K", [50, 100, 150, 200, 250])
legend(ax, [l1, l2, l3], ["MWR2C", "MWR 3C (tan = rain flag)", "Phy-Iter"],
       0.1016, 0.927)
extend_clip(ax)
ax.set_xlim(3, 6)

# ---- panel 3
ax = axes[2]
pwv = np.asarray(PWV_PHY)
ax.fill_between(TIME, pwv - PWV_PHY_UNC, pwv + PWV_PHY_UNC, color=C_PHY,
                alpha=0.3, lw=0, zorder=1)
l1, = ax.plot(TIME, PWV_2C, color=C_2C, lw=0.9, zorder=2)
l2, = ax.plot(TIME, PWV_3C, color=C_3C, lw=1.0, zorder=2)
l3, = ax.plot(TIME, PWV_PHY, color=C_PHY, lw=1.8, zorder=3)
spans(ax, PWV_2C_ONLY, "tan")
spans(ax, PWV_3C_ONLY, "brown")
style(ax, "Precip. Water Vapor, mm", [0.5, 1, 1.5, 2])
legend(ax, [l1, l2, l3], ["MWR 2C PWV", "MWR 3C PWV",
                          "Phy-Iter PWV\n(tan = MWR 2C only)\n(brown = MWR 3C only)"],
       0.3577, 0.9117)
extend_clip(ax)
ax.set_xlim(3, 6)

# ---- panel 4
ax = axes[3]
band(ax, LWP_PHY_LO, LWP_PHY_HI, C_PHY, 0.2)
band(ax, LWP_ADI_LO, LWP_ADI_HI, C_ADI, 0.2)
l1, = ax.plot(TIME, LWP_2C, color=C_2C, lw=0.9, zorder=2)
l2, = ax.plot(TIME, LWP_3C, color=C_3C, lw=1.1, zorder=2)
l3, = ax.plot(TIME, LWP_PHY, color=C_PHY, lw=1.8, zorder=3)
l4, = ax.plot(TIME, LWP_ADI, color=C_ADI, lw=1.0, zorder=3)
adi = np.asarray(LWP_ADI, float)
valid = ~np.isnan(adi)
prev_ok = np.r_[False, valid[:-1]]
next_ok = np.r_[valid[1:], False]
lonely = valid & ~prev_ok & ~next_ok
ax.plot(TIME[lonely], adi[lonely], linestyle="none", marker="x", ms=4.5,
        mew=1.4, color=C_ADI, zorder=3)
flag_sets = dict(zip(DQ_LEVELS, DQ_MINUTES))
spans(ax, minute_runs(flag_sets[3] + flag_sets[4]), "lightgray")
spans(ax, minute_runs(flag_sets[5]), "yellow")
spans(ax, minute_runs(flag_sets[11]), "cyan")
style(ax, "log10 Liquid Water Path, log10(g/m$^2$)",
      [0, 0.5, 1, 1.5, 2, 2.5, 3, 3.5, 4, 4.5])
ax.set_ylim(-0.1, 4.5)
legend(ax, [l1, l2, l3, l4], ["MWR 2C LWP", "MWR 3C LWP", "Phy-Iter LWP",
                              "Adiabatic LWP"], 0.3935, 0.961)
extend_clip(ax)
ax.set_xlim(3, 6)

# ---- panel 5
ax = axes[4]
for lev, mins in zip(DQ_LEVELS, DQ_MINUTES):
    ax.plot(TIME[mins], [lev] * len(mins), linestyle="none", marker="o",
            ms=2.3, mec="none", color=C_PHY)
style(ax, "MWR Phy Iter DQ Flag", [0, 2, 4, 6, 8, 10])
ax.set_ylim(-0.5, 11.5)
extend_clip(ax)
ax.set_xlim(3, 6)

fig.savefig("out.png", dpi=300)
